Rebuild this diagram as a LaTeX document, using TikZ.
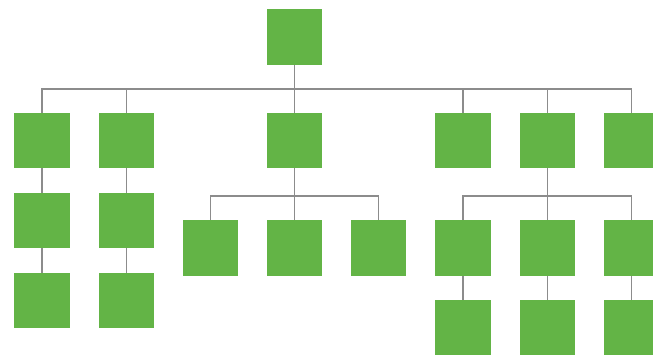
\documentclass[tikz,border=0pt]{standalone}
\definecolor{boxgreen}{HTML}{63B446}
\definecolor{linkgray}{HTML}{8C8C8C}
\begin{document}
\begin{tikzpicture}[x=1pt,y=-1pt,
  unit/.style={rectangle,fill=boxgreen,minimum width=55.5pt,minimum height=55.5pt,inner sep=0pt},
  link/.style={draw=linkgray,line width=1.6pt}]
\useasboundingbox (0,0) rectangle (653,360);
\clip (0,0) rectangle (653,360);
% root
\node[unit] (root) at (294.5,37) {};
% first level
\node[unit] (a1) at (42,140.5) {};
\node[unit] (a2) at (126.5,140.5) {};
\node[unit] (a3) at (294.5,140.5) {};
\node[unit] (a4) at (463,140.5) {};
\node[unit] (a5) at (547.5,140.5) {};
\node[unit] (a6) at (631.5,140.5) {};
% left chains
\node[unit] (b1) at (42,220.5) {};
\node[unit] (c1) at (42,300.5) {};
\node[unit] (b2) at (126.5,220.5) {};
\node[unit] (c2) at (126.5,300.5) {};
% middle group
\node[unit] (m1) at (210.5,248) {};
\node[unit] (m2) at (294.5,248) {};
\node[unit] (m3) at (378.5,248) {};
% right group
\node[unit] (r1) at (463,248) {};
\node[unit] (r2) at (547.5,248) {};
\node[unit] (r3) at (631.5,248) {};
\node[unit] (s1) at (463,327.5) {};
\node[unit] (s2) at (547.5,327.5) {};
\node[unit] (s3) at (631.5,327.5) {};
% bus junctions
\coordinate (bus) at (294.5,89);
\coordinate (mbus) at (294.5,196);
\coordinate (rbus) at (547.5,196);
% root to first level
\draw[link] (root.south) -- (bus);
\foreach \n in {a1,a2,a3,a4,a5,a6} \draw[link] (bus) -| (\n.north);
% left chains
\draw[link] (a1.south) -- (b1.north);
\draw[link] (b1.south) -- (c1.north);
\draw[link] (a2.south) -- (b2.north);
\draw[link] (b2.south) -- (c2.north);
% middle group
\draw[link] (a3.south) -- (mbus);
\foreach \n in {m1,m2,m3} \draw[link] (mbus) -| (\n.north);
% right group
\draw[link] (a5.south) -- (rbus);
\foreach \n in {r1,r2,r3} \draw[link] (rbus) -| (\n.north);
\draw[link] (r1.south) -- (s1.north);
\draw[link] (r2.south) -- (s2.north);
\draw[link] (r3.south) -- (s3.north);
\end{tikzpicture}
\end{document}
